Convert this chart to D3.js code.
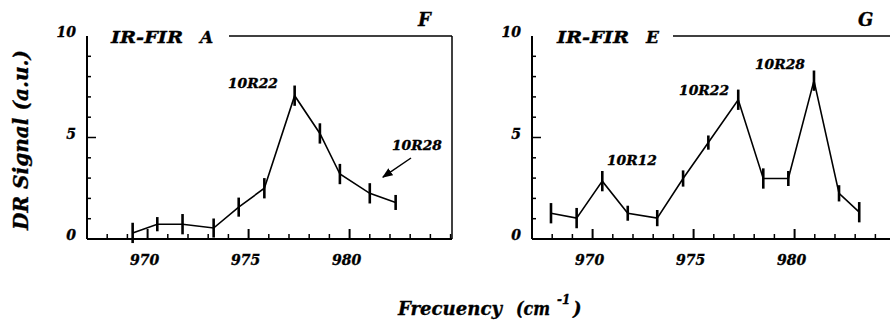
<!DOCTYPE html>
<html><head><meta charset="utf-8">
<script src="https://cdn.jsdelivr.net/npm/d3@7"></script>
<style>
html,body{margin:0;padding:0;background:#fff;}
svg{display:block;}
text{font-family:"DejaVu Serif",serif;font-weight:bold;font-style:italic;fill:#000;stroke:#000;stroke-width:0.35px;}
</style></head><body>
<script>
// ---- data ----
const xTicksMajor = [970, 975, 980];
const xTicksMinor = [968,969,971,972,973,974,976,977,978,979,981,982,983,984,985];
const yTickLabels = [0, 5, 10];
const yTicksMinor = [1,2,3,4,6,7,8,9];

const leftX   = [969.26, 970.48, 971.73, 973.27, 974.51, 975.78, 977.28, 978.53, 979.52, 981.0, 982.28];
const leftY   = [0.30, 0.73, 0.73, 0.54, 1.57, 2.50, 7.06, 5.20, 3.20, 2.25, 1.80];
const leftErr = [0.50, 0.35, 0.50, 0.47, 0.47, 0.50, 0.50, 0.50, 0.50, 0.50, 0.37];

const rightX   = [967.94, 969.21, 970.48, 971.74, 973.20, 974.48, 975.73, 977.21, 978.45, 979.69, 980.96, 982.20, 983.20];
const rightY   = [1.27, 1.03, 2.85, 1.27, 1.03, 2.98, 4.75, 6.86, 2.98, 2.98, 7.80, 2.25, 1.32];
const rightErr = [0.50, 0.50, 0.50, 0.37, 0.40, 0.40, 0.35, 0.50, 0.50, 0.37, 0.50, 0.40, 0.50];

const leftLabels  = [{t:"10R22", x:973.98, y:7.44}, {t:"10R28", x:982.1, y:4.38}];
const rightLabels = [{t:"10R12", x:970.71, y:3.65}, {t:"10R22", x:974.28, y:7.09}, {t:"10R28", x:978.04, y:8.37}];
const leftArrow = {x1:983.04, y1:3.99, x2:981.65, y2:3.05};

const W = 890, H = 323;
const svg = d3.select("body").append("svg").attr("width", W).attr("height", H);

svg.append("defs").append("marker").attr("id","ah").attr("viewBox","0 0 10 10")
  .attr("refX",9).attr("refY",5).attr("markerWidth",7).attr("markerHeight",7)
  .attr("orient","auto").append("path").attr("d","M0,1 L10,5 L0,9 Z").attr("fill","#000");

function panel(o){
  const x = d3.scaleLinear().domain([967, 985.07]).range([o.x0, o.x0 + 365]);
  const y = d3.scaleLinear().domain([0, 10]).range([239, 36]);
  const g = svg.append("g");
  // frame
  g.append("line").attr("x1",x(967)).attr("x2",x(967)).attr("y1",y(0)).attr("y2",y(10)).attr("stroke","#000").attr("stroke-width",2);
  g.append("line").attr("x1",x(967)).attr("x2",o.xEnd).attr("y1",y(0)).attr("y2",y(0)).attr("stroke","#000").attr("stroke-width",2);
  g.append("line").attr("x1",o.topStart).attr("x2",o.xEnd).attr("y1",y(10)).attr("y2",y(10)).attr("stroke","#000").attr("stroke-width",1.5);
  if (o.rightFrame) g.append("line").attr("x1",o.xEnd).attr("x2",o.xEnd).attr("y1",y(10)).attr("y2",y(0)).attr("stroke","#000").attr("stroke-width",1.5);
  // x ticks
  g.selectAll(".xmaj").data(xTicksMajor).enter().append("line")
    .attr("x1",d=>x(d)).attr("x2",d=>x(d)).attr("y1",y(0)).attr("y2",y(0)-10).attr("stroke","#000").attr("stroke-width",2);
  g.selectAll(".xmin").data(xTicksMinor).enter().append("line")
    .attr("x1",d=>x(d)).attr("x2",d=>x(d)).attr("y1",y(0)).attr("y2",y(0)-5).attr("stroke","#000").attr("stroke-width",1.5);
  g.selectAll(".xl").data(xTicksMajor).enter().append("text")
    .attr("x",d=>x(d)-3).attr("y",265).attr("text-anchor","middle").attr("font-size",14).text(d=>d);
  // y ticks
  g.selectAll(".ymin").data(yTicksMinor).enter().append("line")
    .attr("x1",x(967)).attr("x2",x(967)+4).attr("y1",d=>y(d)).attr("y2",d=>y(d)).attr("stroke","#000").attr("stroke-width",1.5);
  g.append("line").attr("x1",x(967)).attr("x2",x(967)+9).attr("y1",y(5)).attr("y2",y(5)).attr("stroke","#000").attr("stroke-width",1.5);
  g.selectAll(".yl").data(yTickLabels).enter().append("text")
    .attr("x",x(967)-11).attr("y",d=>y(d)+1).attr("text-anchor","end").attr("font-size",14).text(d=>d);
  // title
  g.append("text").attr("x",o.titleX).attr("y",43).attr("font-size",17).attr("textLength",72).attr("lengthAdjust","spacingAndGlyphs").text("IR-FIR");
  g.append("text").attr("x",o.titleX+89).attr("y",43).attr("font-size",17).text(o.letter);
  g.append("text").attr("x",o.cornerX).attr("y",26).attr("font-size",18).text(o.corner);
  // line
  const pts = o.xs.map((v,i)=>[v, o.ys[i], o.es[i]]);
  g.append("path").datum(pts).attr("fill","none").attr("stroke","#000").attr("stroke-width",1.6)
    .attr("d", d3.line().x(d=>x(d[0])).y(d=>y(d[1])));
  g.selectAll(".eb").data(pts).enter().append("line")
    .attr("x1",d=>x(d[0])).attr("x2",d=>x(d[0]))
    .attr("y1",d=>y(d[1]-d[2])).attr("y2",d=>y(d[1]+d[2]))
    .attr("stroke","#000").attr("stroke-width",2.6);
  g.selectAll(".lab").data(o.labels).enter().append("text")
    .attr("x",d=>x(d.x)).attr("y",d=>y(d.y)).attr("font-size",13).attr("textLength",50).attr("lengthAdjust","spacingAndGlyphs").text(d=>d.t);
  if (o.arrow) g.append("line").attr("x1",x(o.arrow.x1)).attr("y1",y(o.arrow.y1))
    .attr("x2",x(o.arrow.x2)).attr("y2",y(o.arrow.y2)).attr("stroke","#000").attr("stroke-width",1.5).attr("marker-end","url(#ah)");
}

panel({x0:87, xEnd:452, topStart:229, rightFrame:true, titleX:111, letter:"A", corner:"F", cornerX:418,
  xs:leftX, ys:leftY, es:leftErr, labels:leftLabels, arrow:leftArrow});
panel({x0:532, xEnd:890, topStart:673, rightFrame:false, titleX:557, letter:"E", corner:"G", cornerX:858,
  xs:rightX, ys:rightY, es:rightErr, labels:rightLabels, arrow:null});

// axis titles
svg.append("text").attr("transform","translate(28,140) rotate(-90)").attr("text-anchor","middle")
  .attr("font-size",20).attr("textLength",180).attr("lengthAdjust","spacingAndGlyphs").text("DR Signal  (a.u.)");
svg.append("text").attr("x",398).attr("y",315).attr("font-size",18).attr("textLength",104).attr("lengthAdjust","spacingAndGlyphs").text("Frecuency");
svg.append("text").attr("x",516).attr("y",315).attr("font-size",18).attr("textLength",34).attr("lengthAdjust","spacingAndGlyphs").text("(cm");
svg.append("text").attr("x",557).attr("y",304).attr("font-size",12).text("-1");
svg.append("text").attr("x",573).attr("y",315).attr("font-size",18).text(")");
</script>
</body></html>
